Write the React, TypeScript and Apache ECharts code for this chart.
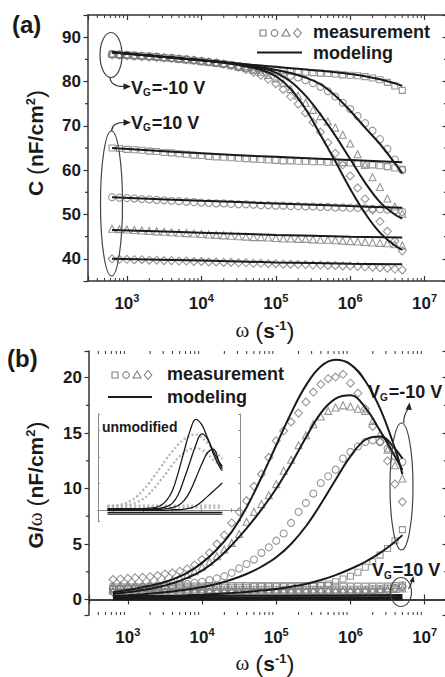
import React, { useEffect, useRef } from "react";
import * as echarts from "echarts";

// ---------- frequency grids (s^-1) ----------
const omegaMeas = [631, 794, 1000, 1259, 1585, 1995, 2512, 3162, 3981, 5012, 6310, 7943, 10000, 12589, 15849, 19953, 25119, 31623, 39811, 50119, 63096, 79433, 100000, 125893, 158489, 199526, 251189, 316228, 398107, 501187, 630957, 794328, 1000000, 1258925, 1584893, 1995262, 2511886, 3162278, 3981072, 5011872];
const omegaModel = [631, 1000, 1585, 2512, 3981, 6310, 10000, 15849, 25119, 39811, 63096, 100000, 158489, 251189, 398107, 630957, 1000000, 1584893, 2511886, 3981072, 5011872];
const omegaLine = [631, 10000, 100000, 1000000, 5011872];

// ---------- axis ticks ----------
const minorXTicks = [400, 500, 600, 700, 800, 900, 2e3, 3e3, 4e3, 5e3, 6e3, 7e3, 8e3, 9e3, 2e4, 3e4, 4e4, 5e4, 6e4, 7e4, 8e4, 9e4, 2e5, 3e5, 4e5, 5e5, 6e5, 7e5, 8e5, 9e5, 2e6, 3e6, 4e6, 5e6, 6e6, 7e6, 8e6, 9e6];
const minorYTicksA = [45, 55, 65, 75, 85];
const minorYTicksB = [2.5, 7.5, 12.5, 17.5];

// ---------- panel (a): C (nF/cm2) ----------
// VG = -10 V, measurement
const aSqNeg = [86.2, 86.1, 86.0, 85.9, 85.8, 85.7, 85.6, 85.4, 85.3, 85.1, 85.0, 84.8, 84.6, 84.4, 84.2, 84.0, 83.8, 83.5, 83.3, 83.1, 82.9, 82.7, 82.5, 82.4, 82.3, 82.2, 82.1, 82.0, 81.9, 81.8, 81.7, 81.5, 81.4, 81.3, 81.1, 80.8, 80.4, 79.8, 79.0, 78.0];
const aCiNeg = [86.2, 86.1, 86.0, 85.9, 85.8, 85.7, 85.6, 85.4, 85.3, 85.1, 85.0, 84.8, 84.6, 84.4, 84.2, 84.0, 83.7, 83.4, 83.1, 82.8, 82.5, 82.3, 82.0, 81.7, 81.3, 80.9, 80.3, 79.6, 78.8, 77.8, 76.6, 75.2, 73.8, 72.2, 70.6, 68.9, 67.0, 64.8, 62.4, 60.0];
const aTrNeg = [86.2, 86.1, 86.0, 85.9, 85.8, 85.7, 85.6, 85.4, 85.3, 85.1, 85.0, 84.8, 84.6, 84.4, 84.2, 84.0, 83.7, 83.3, 83.0, 82.6, 82.1, 81.5, 80.7, 79.6, 78.3, 76.8, 75.2, 73.6, 72.2, 71.0, 69.6, 68.0, 66.0, 63.6, 61.2, 58.4, 56.2, 53.6, 51.8, 50.2];
const aDiNeg = [86.0, 85.9, 85.8, 85.7, 85.6, 85.5, 85.4, 85.3, 85.2, 85.1, 84.9, 84.8, 84.6, 84.4, 84.2, 83.9, 83.6, 83.2, 82.7, 82.1, 81.4, 80.5, 79.5, 78.2, 76.6, 74.9, 72.9, 70.8, 68.6, 66.2, 63.8, 61.2, 58.7, 56.0, 53.5, 51.0, 48.4, 46.2, 44.0, 41.8];
// VG = -10 V, modeling
const aSqNegFit = [86.6, 86.3, 86.0, 85.7, 85.4, 85.1, 84.8, 84.5, 84.2, 83.9, 83.6, 83.3, 83.0, 82.7, 82.4, 82.1, 81.7, 81.2, 80.5, 79.6, 79.0];
const aCiNegFit = [86.6, 86.3, 86.0, 85.7, 85.4, 85.1, 84.8, 84.5, 84.1, 83.7, 83.2, 82.6, 81.9, 80.9, 79.4, 76.8, 73.4, 69.6, 65.9, 61.6, 59.3];
const aTrNegFit = [86.6, 86.3, 86.0, 85.7, 85.4, 85.1, 84.8, 84.5, 84.1, 83.6, 83.0, 82.0, 80.0, 76.8, 72.6, 67.8, 62.5, 57.2, 52.8, 50.0, 49.1];
const aDiNegFit = [86.6, 86.3, 86.0, 85.7, 85.4, 85.1, 84.8, 84.4, 84.0, 83.4, 82.6, 81.2, 78.3, 73.8, 68.0, 62.0, 55.8, 50.3, 45.9, 43.0, 42.0];
// VG = 10 V, measurement
const aSqPos = [65.0, 64.9, 64.7, 64.6, 64.5, 64.3, 64.2, 64.0, 63.9, 63.7, 63.6, 63.4, 63.3, 63.1, 63.0, 62.9, 62.8, 62.7, 62.6, 62.5, 62.4, 62.3, 62.2, 62.1, 62.1, 62.0, 62.0, 61.9, 61.9, 61.8, 61.8, 61.7, 61.6, 61.5, 61.4, 61.2, 61.0, 60.8, 60.5, 60.2];
const aCiPos = [53.9, 53.8, 53.7, 53.6, 53.5, 53.4, 53.3, 53.2, 53.1, 53.0, 52.9, 52.8, 52.7, 52.6, 52.5, 52.5, 52.4, 52.3, 52.3, 52.2, 52.1, 52.1, 52.0, 52.0, 51.9, 51.9, 51.8, 51.8, 51.7, 51.7, 51.6, 51.6, 51.5, 51.5, 51.4, 51.3, 51.2, 51.1, 50.9, 50.6];
const aTrPos = [46.8, 46.7, 46.6, 46.5, 46.4, 46.3, 46.2, 46.1, 46.0, 45.9, 45.8, 45.7, 45.6, 45.5, 45.4, 45.3, 45.2, 45.1, 45.0, 44.9, 44.9, 44.8, 44.7, 44.6, 44.6, 44.5, 44.5, 44.4, 44.3, 44.3, 44.2, 44.1, 44.0, 43.9, 43.8, 43.7, 43.6, 43.5, 43.3, 43.0];
const aDiPos = [40.0, 39.9, 39.9, 39.8, 39.8, 39.7, 39.7, 39.6, 39.6, 39.5, 39.5, 39.4, 39.4, 39.3, 39.3, 39.2, 39.2, 39.1, 39.1, 39.0, 39.0, 38.9, 38.9, 38.8, 38.8, 38.7, 38.7, 38.6, 38.6, 38.5, 38.5, 38.4, 38.4, 38.3, 38.2, 38.1, 38.0, 37.9, 37.7, 37.5];
// VG = 10 V, modeling (on omegaLine)
const aSqPosFit = [65.0, 63.8, 63.0, 62.3, 61.8];
const aCiPosFit = [53.9, 53.1, 52.5, 51.9, 51.5];
const aTrPosFit = [46.5, 45.9, 45.4, 45.0, 44.8];
const aDiPosFit = [40.0, 39.6, 39.2, 38.9, 38.8];

// ---------- panel (b): G/omega (nF/cm2) ----------
const bSqNeg = [0.9, 0.9, 0.95, 0.95, 1.0, 1.0, 1.0, 1.0, 1.05, 1.05, 1.05, 1.05, 1.05, 1.1, 1.1, 1.1, 1.1, 1.1, 1.1, 1.15, 1.15, 1.15, 1.15, 1.15, 1.15, 1.15, 1.2, 1.2, 1.3, 1.4, 1.6, 1.85, 2.1, 2.45, 2.9, 3.4, 4.0, 4.6, 5.3, 6.3];
const bCiNeg = [1.0, 1.0, 1.05, 1.05, 1.1, 1.1, 1.15, 1.2, 1.25, 1.3, 1.4, 1.5, 1.6, 1.75, 1.9, 2.1, 2.4, 2.8, 3.2, 3.6, 4.2, 4.7, 5.3, 5.95, 6.9, 7.9, 8.7, 9.55, 10.5, 11.1, 11.7, 12.7, 13.3, 13.8, 14.2, 14.35, 14.2, 13.6, 12.9, 12.4];
const bTrNeg = [1.25, 1.25, 1.3, 1.3, 1.35, 1.4, 1.5, 1.6, 1.75, 1.95, 2.2, 2.55, 2.95, 3.4, 3.9, 4.5, 5.1, 5.9, 7.0, 7.9, 8.6, 9.4, 10.4, 11.6, 12.6, 13.9, 14.8, 15.8, 16.5, 17.0, 17.3, 17.5, 17.4, 17.2, 17.0, 16.1, 14.9, 13.5, 12.1, 10.9];
const bDiNeg = [1.8, 1.85, 1.9, 1.95, 2.0, 2.05, 2.15, 2.3, 2.4, 2.55, 2.75, 3.1, 3.6, 4.2, 5.0, 5.8, 6.9, 7.9, 8.9, 10.2, 11.3, 12.8, 14.3, 15.2, 16.0, 16.8, 17.8, 18.7, 19.4, 19.9, 20.05, 20.3, 19.5, 18.6, 17.2, 15.6, 14.2, 12.5, 10.4, 8.8];
const bSqNegFit = [0.2, 0.22, 0.25, 0.28, 0.32, 0.37, 0.43, 0.5, 0.58, 0.68, 0.8, 0.95, 1.15, 1.4, 1.75, 2.2, 2.75, 3.4, 4.2, 5.2, 5.8];
const bCiNegFit = [0.3, 0.38, 0.47, 0.58, 0.72, 0.9, 1.12, 1.4, 1.8, 2.3, 2.95, 3.8, 5.0, 6.6, 8.6, 10.8, 12.9, 14.4, 14.7, 13.6, 12.7];
const bTrNegFit = [0.5, 0.65, 0.85, 1.1, 1.45, 1.95, 2.6, 3.6, 4.9, 6.4, 8.1, 10.0, 12.2, 14.6, 16.8, 18.1, 18.4, 17.3, 15.2, 12.9, 11.7];
const bDiNegFit = [0.65, 0.85, 1.1, 1.4, 1.8, 2.4, 3.3, 4.5, 6.1, 8.3, 11.0, 13.9, 16.8, 19.3, 21.0, 21.6, 21.2, 19.7, 17.2, 13.6, 11.3];
const bSqPos = [1.15, 1.15, 1.15, 1.15, 1.15, 1.2, 1.2, 1.2, 1.2, 1.2, 1.2, 1.2, 1.2, 1.25, 1.25, 1.25, 1.25, 1.25, 1.25, 1.25, 1.25, 1.25, 1.25, 1.25, 1.25, 1.25, 1.25, 1.25, 1.25, 1.25, 1.2, 1.2, 1.2, 1.2, 1.2, 1.2, 1.2, 1.2, 1.25, 1.3];
const bCiPos = [0.95, 0.95, 0.95, 0.95, 0.95, 0.95, 0.95, 0.95, 0.95, 0.95, 0.9, 0.9, 0.9, 0.9, 0.9, 0.9, 0.9, 0.9, 0.9, 0.9, 0.9, 0.9, 0.9, 0.9, 0.9, 0.9, 0.9, 0.9, 0.9, 0.9, 0.9, 0.9, 0.9, 0.9, 0.9, 0.95, 0.95, 1.0, 1.05, 1.1];
const bTrPos = [0.8, 0.8, 0.8, 0.8, 0.8, 0.8, 0.8, 0.8, 0.8, 0.8, 0.8, 0.8, 0.8, 0.8, 0.8, 0.8, 0.8, 0.8, 0.8, 0.8, 0.8, 0.8, 0.8, 0.8, 0.8, 0.8, 0.8, 0.8, 0.8, 0.8, 0.8, 0.8, 0.8, 0.8, 0.85, 0.85, 0.9, 0.9, 0.95, 1.0];
const bDiPos = [0.65, 0.65, 0.65, 0.65, 0.65, 0.65, 0.65, 0.65, 0.65, 0.65, 0.65, 0.65, 0.65, 0.65, 0.65, 0.65, 0.65, 0.65, 0.65, 0.65, 0.65, 0.65, 0.65, 0.65, 0.65, 0.7, 0.7, 0.7, 0.7, 0.7, 0.7, 0.7, 0.7, 0.7, 0.7, 0.7, 0.75, 0.8, 1.0, 1.2];
const bSqPosFit = [0.32, 0.32, 0.34, 0.36, 0.4];
const bCiPosFit = [0.18, 0.18, 0.19, 0.2, 0.22];
const bTrPosFit = [0.08, 0.08, 0.09, 0.1, 0.11];
const bDiPosFit = [0.0, 0.0, 0.01, 0.02, 0.03];

// ---------- inset (unmodified) ----------
const inFitA = [0.3, 0.3, 0.3, 0.3, 0.3, 0.3, 0.3, 0.4, 0.5, 0.9, 1.8, 3.6, 7.0, 11.0, 14.8, 17.0, 16.0, 13.5, 11.0, 9.0, 8.2];
const inFitB = [0.2, 0.2, 0.2, 0.2, 0.2, 0.2, 0.2, 0.2, 0.3, 0.4, 0.7, 1.3, 2.9, 5.8, 9.0, 12.2, 14.3, 13.3, 10.5, 8.2, 7.4];
const inFitC = [0.1, 0.1, 0.1, 0.1, 0.1, 0.1, 0.1, 0.1, 0.1, 0.2, 0.3, 0.5, 0.9, 1.8, 3.5, 6.0, 8.6, 10.8, 11.4, 8.8, 7.8];
const inFitD = [0.0, 0.0, 0.0, 0.0, 0.0, 0.0, 0.0, 0.0, 0.0, 0.0, 0.0, 0.1, 0.1, 0.2, 0.4, 0.8, 1.6, 2.6, 3.6, 4.6, 5.1];
const inFitFlat1 = [-0.4, -0.4, -0.4, -0.4, -0.4];
const inFitFlat2 = [-0.7, -0.7, -0.7, -0.7, -0.7];
const inMeasE = [0.8, 0.9, 1.0, 1.3, 1.8, 2.6, 3.7, 5.0, 6.5, 8.0, 9.6, 11.0, 12.3, 13.3, 13.9, 14.2, 13.6, 12.6, 11.4, 10.2, 9.6];
const inMeasF = [0.8, 0.8, 0.8, 0.9, 1.1, 1.5, 2.1, 3.0, 4.2, 5.6, 7.0, 8.5, 9.8, 10.8, 11.4, 11.6, 11.3, 10.5, 9.4, 8.6, 8.2];
const inMeasFlat1 = [0.9, 0.9, 0.9, 0.9, 0.9];
const inMeasFlat2 = [0.5, 0.5, 0.5, 0.5, 0.5];

const FONT = "'Liberation Sans', Arial, Helvetica, sans-serif";
const SERIF = "'Liberation Serif', 'DejaVu Serif', serif";
const INK = "#1a1a1a";
const MARK = "#7c7c7c";
const AXIS = "#333";

const zip = (xs: number[], ys: number[]) => xs.map((x, i) => [x, ys[i]]);

function meas(symbol: string, ys: number[], xi: number, yi: number, size = 7) {
  return {
    type: "scatter",
    xAxisIndex: xi,
    yAxisIndex: yi,
    data: zip(omegaMeas, ys),
    symbol,
    symbolSize: size,
    silent: true,
    z: 2,
    itemStyle: { color: "rgba(255,255,255,0)", borderColor: MARK, borderWidth: 1.1 },
  };
}

function fit(xs: number[], ys: number[], xi: number, yi: number, width = 2, color = INK, type = "solid") {
  return {
    type: "line",
    xAxisIndex: xi,
    yAxisIndex: yi,
    data: zip(xs, ys),
    smooth: 0.4,
    showSymbol: false,
    symbol: "none",
    silent: true,
    z: 3,
    lineStyle: { color, width, type },
  };
}

function minorX(xi: number, yi: number, yRef: number, len: number, color: string) {
  return {
    type: "custom",
    xAxisIndex: xi,
    yAxisIndex: yi,
    silent: true,
    clip: false,
    z: 5,
    data: minorXTicks.map((v) => [v, yRef]),
    renderItem: (params: any, api: any) => {
      const cs = params.coordSys;
      const px = api.coord([api.value(0), api.value(1)])[0];
      const b = cs.y + cs.height;
      const t = cs.y;
      const st = { stroke: color, lineWidth: 1 };
      return {
        type: "group",
        children: [
          { type: "line", shape: { x1: px, y1: b, x2: px, y2: b - len }, style: st },
          { type: "line", shape: { x1: px, y1: t, x2: px, y2: t + len }, style: st },
        ],
      };
    },
  };
}

function minorY(xi: number, yi: number, ticks: number[], len: number) {
  return {
    type: "custom",
    xAxisIndex: xi,
    yAxisIndex: yi,
    silent: true,
    clip: false,
    z: 5,
    data: ticks.map((v) => [1000, v]),
    renderItem: (params: any, api: any) => {
      const cs = params.coordSys;
      const py = api.coord([api.value(0), api.value(1)])[1];
      const l = cs.x;
      const r = cs.x + cs.width;
      const st = { stroke: AXIS, lineWidth: 1.2 };
      return {
        type: "group",
        children: [
          { type: "line", shape: { x1: l, y1: py, x2: l - len, y2: py }, style: st },
          { type: "line", shape: { x1: r, y1: py, x2: r - len, y2: py }, style: st },
        ],
      };
    },
  };
}

const powLabel = (v: number) => {
  const e = Math.log10(v);
  const r = Math.round(e);
  if (Math.abs(e - r) > 1e-6) return "";
  return `{b|10}{s|${r}}`;
};

const labelRich = {
  b: { fontSize: 17, fontWeight: "bold", fontFamily: FONT, color: INK, lineHeight: 22 },
  s: { fontSize: 11, fontWeight: "bold", fontFamily: FONT, color: INK, verticalAlign: "top", lineHeight: 12 },
};

function xAxes(grid: number, main: boolean) {
  const line = { show: true, lineStyle: { color: main ? AXIS : "#8a8a8a", width: main ? 1.5 : 1 } };
  const tick = { show: true, inside: true, length: main ? 5 : 2, lineStyle: { color: main ? AXIS : "#8a8a8a", width: main ? 1.2 : 1 } };
  const base = { gridIndex: grid, type: "log", logBase: 10, min: 300, max: 2e7, splitLine: { show: false }, axisLine: line, axisTick: tick };
  return [
    {
      ...base,
      position: "bottom",
      axisLabel: main
        ? { show: true, formatter: powLabel, rich: labelRich, margin: 11, color: INK }
        : { show: false },
    },
    { ...base, position: "top", axisLabel: { show: false } },
  ];
}

function yAxes(grid: number, min: number, max: number, step: number, main: boolean) {
  const line = { show: true, lineStyle: { color: main ? AXIS : "#8a8a8a", width: main ? 1.5 : 1 } };
  const base = { gridIndex: grid, type: "value", min, max, splitLine: { show: false }, axisLine: line, splitNumber: 5 };
  return [
    {
      ...base,
      position: "left",
      axisTick: { show: true, inside: !main, length: main ? 4.5 : 2, lineStyle: { color: main ? AXIS : "#8a8a8a", width: main ? 1.2 : 1 } },
      axisLabel: main
        ? {
            show: true,
            margin: 7,
            fontSize: 17,
            fontWeight: "bold",
            fontFamily: FONT,
            color: INK,
            formatter: (v: number) => (Math.abs(v / step - Math.round(v / step)) < 1e-6 ? String(Math.round(v)) : ""),
          }
        : { show: false },
    },
    {
      ...base,
      position: "right",
      axisTick: { show: true, inside: true, length: main ? 4.5 : 2, lineStyle: { color: main ? AXIS : "#8a8a8a", width: 1.2 } },
      axisLabel: { show: false },
    },
  ];
}

// ---------- graphic helpers ----------
const txt = (text: string, x: number, y: number, size: number, extra: any = {}) => ({
  type: "text",
  x,
  y,
  z: 100,
  style: {
    text,
    fontSize: size,
    fontWeight: "bold",
    fontFamily: FONT,
    fill: INK,
    align: "left",
    verticalAlign: "middle",
    ...extra,
  },
});

const vgRich = {
  v: { fontSize: 18, fontWeight: "bold", fontFamily: FONT, fill: INK, lineHeight: 20 },
  g: { fontSize: 10, fontWeight: "bold", fontFamily: FONT, fill: INK, lineHeight: 10, verticalAlign: "bottom", padding: [0, 1, 0, 0] },
};

const titleRich = {
  t: { fontSize: 21, fontWeight: "bold", fontFamily: FONT, fill: INK, lineHeight: 22 },
  p: { fontSize: 24, fontWeight: "normal", fontFamily: FONT, fill: INK, lineHeight: 22 },
  s: { fontSize: 13, fontWeight: "bold", fontFamily: FONT, fill: INK, lineHeight: 12, verticalAlign: "top" },
  w: { fontSize: 21, fontWeight: "normal", fontFamily: SERIF, fill: INK, lineHeight: 22 },
};

const ellipse = (cx: number, cy: number, rx: number, ry: number) => ({
  type: "ellipse",
  z: 100,
  shape: { cx, cy, rx, ry },
  style: { fill: "none", stroke: "#444", lineWidth: 1.2 },
});

const curve = (x1: number, y1: number, cpx1: number, cpy1: number, cpx2: number, cpy2: number, x2: number, y2: number) => ({
  type: "bezierCurve",
  z: 100,
  shape: { x1, y1, cpx1, cpy1, cpx2, cpy2, x2, y2 },
  style: { fill: "none", stroke: "#333", lineWidth: 1.2 },
});

const head = (pts: number[][]) => ({ type: "polygon", z: 100, shape: { points: pts }, style: { fill: "#222", stroke: "none" } });

function legend(x0: number, yM: number, gap: number, txtX: number, lineX1: number, lineX2: number, yL: number) {
  const st = { fill: "none", stroke: MARK, lineWidth: 1.1 };
  return [
    { type: "rect", z: 100, shape: { x: x0 - 3, y: yM - 3, width: 6, height: 6 }, style: st },
    { type: "circle", z: 100, shape: { cx: x0 + gap, cy: yM, r: 3.3 }, style: st },
    { type: "polygon", z: 100, shape: { points: [[x0 + 2 * gap, yM - 4], [x0 + 2 * gap + 4, yM + 3], [x0 + 2 * gap - 4, yM + 3]] }, style: st },
    { type: "polygon", z: 100, shape: { points: [[x0 + 3 * gap, yM - 4.5], [x0 + 3 * gap + 3.8, yM], [x0 + 3 * gap, yM + 4.5], [x0 + 3 * gap - 3.8, yM]] }, style: st },
    txt("measurement", txtX, yM - 1, 18),
    { type: "line", z: 100, shape: { x1: lineX1, y1: yL, x2: lineX2, y2: yL }, style: { stroke: INK, lineWidth: 2 } },
    txt("modeling", txtX, yL, 18),
  ];
}

export default function App() {
  const ref = useRef<HTMLDivElement>(null);
  useEffect(() => {
    document.body.style.margin = "0";
    if (!ref.current) return;
    const chart = echarts.init(ref.current, undefined, { renderer: "svg" });

    const series: any[] = [
      // panel a
      meas("rect", aSqNeg, 0, 0, 6),
      meas("circle", aCiNeg, 0, 0),
      meas("triangle", aTrNeg, 0, 0),
      meas("diamond", aDiNeg, 0, 0, 8),
      meas("rect", aSqPos, 0, 0, 6),
      meas("circle", aCiPos, 0, 0),
      meas("triangle", aTrPos, 0, 0),
      meas("diamond", aDiPos, 0, 0, 8),
      fit(omegaModel, aSqNegFit, 0, 0),
      fit(omegaModel, aCiNegFit, 0, 0),
      fit(omegaModel, aTrNegFit, 0, 0),
      fit(omegaModel, aDiNegFit, 0, 0),
      fit(omegaLine, aSqPosFit, 0, 0),
      fit(omegaLine, aCiPosFit, 0, 0),
      fit(omegaLine, aTrPosFit, 0, 0),
      fit(omegaLine, aDiPosFit, 0, 0),
      minorX(0, 0, 50, 3, AXIS),
      minorY(0, 0, minorYTicksA, 3),
      // panel b
      meas("rect", bSqPos, 2, 2, 6),
      meas("circle", bCiPos, 2, 2),
      meas("triangle", bTrPos, 2, 2),
      meas("diamond", bDiPos, 2, 2, 8),
      meas("rect", bSqNeg, 2, 2, 6),
      meas("circle", bCiNeg, 2, 2),
      meas("triangle", bTrNeg, 2, 2),
      meas("diamond", bDiNeg, 2, 2, 8),
      fit(omegaModel, bSqNegFit, 2, 2),
      fit(omegaModel, bCiNegFit, 2, 2),
      fit(omegaModel, bTrNegFit, 2, 2),
      fit(omegaModel, bDiNegFit, 2, 2),
      fit(omegaLine, bSqPosFit, 2, 2),
      fit(omegaLine, bCiPosFit, 2, 2),
      fit(omegaLine, bTrPosFit, 2, 2),
      fit(omegaLine, bDiPosFit, 2, 2),
      minorX(2, 2, 5, 3, AXIS),
      minorY(2, 2, minorYTicksB, 3),
      // inset
      fit(omegaModel, inMeasE, 4, 4, 2.2, "#b5b5b5", "dotted"),
      fit(omegaModel, inMeasF, 4, 4, 2.2, "#b5b5b5", "dotted"),
      fit(omegaLine, inMeasFlat1, 4, 4, 2.2, "#b5b5b5", "dotted"),
      fit(omegaLine, inMeasFlat2, 4, 4, 2.2, "#b5b5b5", "dotted"),
      fit(omegaModel, inFitA, 4, 4, 1.3),
      fit(omegaModel, inFitB, 4, 4, 1.3),
      fit(omegaModel, inFitC, 4, 4, 1.3),
      fit(omegaModel, inFitD, 4, 4, 1.3),
      fit(omegaLine, inFitFlat1, 4, 4, 1.3),
      fit(omegaLine, inFitFlat2, 4, 4, 1.3),
    ];

    const graphic: any[] = [
      txt("(a)", 12, 24, 24),
      txt("(b)", 7, 358, 24),
      {
        type: "text",
        x: 35,
        y: 143,
        rotation: Math.PI / 2,
        z: 100,
        style: { text: "{t|C }{p|(}{t|nF/cm}{s|2}{p|)}", rich: titleRich, align: "center", verticalAlign: "middle" },
      },
      {
        type: "text",
        x: 35,
        y: 485,
        rotation: Math.PI / 2,
        z: 100,
        style: { text: "{t|G/}{w|ω}{t| }{p|(}{t|nF/cm}{s|2}{p|)}", rich: titleRich, align: "center", verticalAlign: "middle" },
      },
      {
        type: "text",
        x: 265,
        y: 330,
        z: 100,
        style: { text: "{w|ω}{t| }{p|(}{t|s}{s|-1}{p|)}", rich: titleRich, align: "center", verticalAlign: "middle" },
      },
      {
        type: "text",
        x: 265,
        y: 663,
        z: 100,
        style: { text: "{w|ω}{t| }{p|(}{t|s}{s|-1}{p|)}", rich: titleRich, align: "center", verticalAlign: "middle" },
      },
      ...legend(263, 33, 11.5, 313, 257, 302, 52.5),
      ...legend(115, 375, 11, 167, 108, 152, 397),
      // panel a annotations
      ellipse(111, 55, 11, 22.5),
      ellipse(111.5, 203.5, 11, 72.5),
      curve(110, 77.5, 110.5, 84, 117, 86.5, 124, 86.5),
      head([[131, 86.5], [123.5, 83.3], [123.5, 89.7]]),
      curve(111.5, 131, 112, 124.5, 117, 122.5, 124, 122.5),
      head([[131, 122.5], [123.5, 119.3], [123.5, 125.7]]),
      txt("{v|V}{g|G}{v|=-10 V}", 131, 87.5, 18, { rich: vgRich }),
      txt("{v|V}{g|G}{v|=10 V}", 131, 122.5, 18, { rich: vgRich }),
      // panel b annotations
      ellipse(401.5, 486.5, 11.5, 63.5),
      ellipse(401, 592, 10.5, 14.5),
      curve(404, 423, 403, 416, 406, 412, 408, 409),
      head([[409.5, 402.5], [405.5, 409.5], [411.8, 410]]),
      curve(408.5, 589, 410.5, 586, 411.5, 583, 412, 581),
      head([[413.5, 576], [409.5, 581.5], [414.5, 582.5]]),
      txt("{v|V}{g|G}{v|=-10 V}", 368, 392, 18, { rich: vgRich }),
      txt("{v|V}{g|G}{v|=10 V}", 372, 570, 18, { rich: vgRich }),
      // inset
      txt("unmodified", 102, 427, 14),
    ];

    chart.setOption({
      animation: false,
      backgroundColor: "#fff",
      textStyle: { fontFamily: FONT },
      grid: [
        { left: 88, top: 15, right: -2, height: 266, containLabel: false, outerBoundsMode: "none" },
        { left: 89, top: 351, right: -2, height: 264, containLabel: false, outerBoundsMode: "none" },
        { left: 98, top: 414, width: 142, height: 107, containLabel: false, outerBoundsMode: "none", show: true, backgroundColor: "#fff", borderWidth: 0 },
      ],
      xAxis: [...xAxes(0, true), ...xAxes(1, true), ...xAxes(2, false)],
      yAxis: [...yAxes(0, 35, 95, 10, true), ...yAxes(1, -1.4, 22.4, 5, true), ...yAxes(2, -2, 18, 5, false)],
      series,
      graphic,
    });
    return () => chart.dispose();
  }, []);
  return <div ref={ref} style={{ width: 445, height: 677 }} />;
}
